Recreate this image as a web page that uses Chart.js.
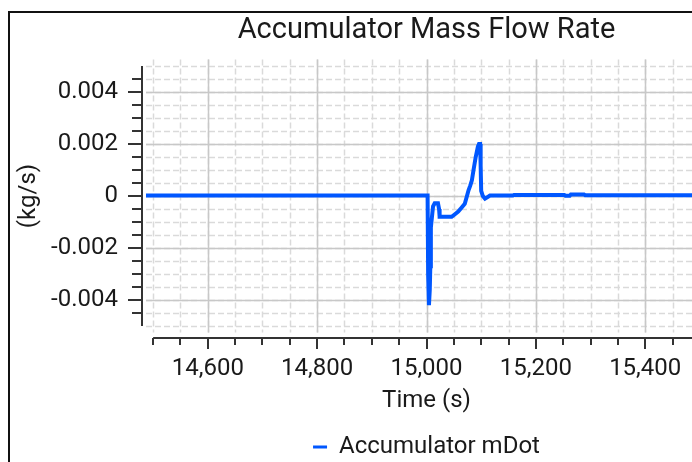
<!DOCTYPE html>
<html>
<head>
<meta charset="utf-8">
<title>Accumulator Mass Flow Rate</title>
<script src="https://cdn.jsdelivr.net/npm/chart.js@4.4.0/dist/chart.umd.min.js"></script>
<style>
  html, body { margin: 0; padding: 0; background: #fff; overflow: hidden; }
  #frame { position: absolute; left: 8px; top: 11px; width: 760px; height: 520px; border: 2px solid #111; }
  #chart { position: absolute; left: 0; top: 0; }
</style>
</head>
<body>
<div id="frame"></div>
<canvas id="chart" width="720" height="469"></canvas>
<script>
// time (s) and accumulator mass flow (kg/s)
const time = [14487, 15002, 15003, 15004.5, 15006, 15007, 15008, 15010, 15012, 15015,
  15021, 15023, 15024, 15046, 15052, 15058, 15064, 15070, 15074, 15077,
  15080, 15083, 15086, 15088, 15090, 15092, 15094, 15096, 15098, 15099,
  15100, 15103, 15107, 15111, 15116, 15158, 15160, 15252, 15254, 15262,
  15264, 15288, 15290, 15513];
const mdot = [0.00002, 0.00002, -0.0030, -0.0042, -0.0036, -0.0027, -0.0012, -0.0008, -0.0004, -0.00028,
  -0.00028, -0.0005, -0.0008, -0.0008, -0.0007, -0.0006, -0.00045, -0.0003, 0.0, 0.00023,
  0.0004, 0.0006, 0.0010, 0.00125, 0.0015, 0.0017, 0.0019, 0.0020, 0.0020, 0.0012,
  0.0002, 0.0, -0.0001, -0.00005, 0.00002, 0.00002, 0.00004, 0.00004, 0.00001, 0.00001,
  0.00006, 0.00006, 0.00003, 0.00003];

const xLabels = [14600, 14800, 15000, 15200, 15400];
const yLabels = [-0.004, -0.002, 0, 0.002, 0.004];
const xMinorStep = 50;      // 14500 .. 15500
const yMinorStep = 0.0005;  // -0.005 .. 0.005

const FONT = 'Roboto, "Liberation Sans", Arial, sans-serif';
const TEXT = '#1a1a1a';
const LINE = '#0057ff';

// dashed minor grid, solid major grid, offset axis lines with tick marks
const gridAndAxes = {
  id: 'gridAndAxes',
  beforeDatasetsDraw(chart) {
    const { ctx, chartArea: a, scales: { x, y } } = chart;
    ctx.save();
    ctx.lineWidth = 1.5;
    ctx.setLineDash([6, 3]);
    ctx.strokeStyle = '#dadada';
    for (let i = 0; i <= 20; i++) {
      const px = Math.round(x.getPixelForValue(14500 + i * xMinorStep)) + 0.5;
      ctx.beginPath(); ctx.moveTo(px, a.top); ctx.lineTo(px, a.bottom); ctx.stroke();
    }
    for (let i = -10; i <= 10; i++) {
      const py = Math.round(y.getPixelForValue(i * yMinorStep)) + 0.5;
      ctx.beginPath(); ctx.moveTo(a.left, py); ctx.lineTo(a.right, py); ctx.stroke();
    }
    ctx.setLineDash([]);
    ctx.strokeStyle = '#c8c8c8';
    xLabels.forEach(v => {
      const px = Math.round(x.getPixelForValue(v)) + 0.5;
      ctx.beginPath(); ctx.moveTo(px, a.top); ctx.lineTo(px, a.bottom); ctx.stroke();
    });
    yLabels.forEach(v => {
      const py = Math.round(y.getPixelForValue(v)) + 0.5;
      ctx.beginPath(); ctx.moveTo(a.left, py); ctx.lineTo(a.right, py); ctx.stroke();
    });
    ctx.restore();
  },
  afterDraw(chart) {
    const { ctx, chartArea: a, scales: { x, y } } = chart;
    ctx.save();
    ctx.strokeStyle = '#333';
    ctx.lineWidth = 2;
    // y axis
    const ax = a.left - 4;
    ctx.beginPath();
    ctx.moveTo(ax, y.getPixelForValue(0.005));
    ctx.lineTo(ax, y.getPixelForValue(-0.005));
    ctx.stroke();
    for (let i = -9; i <= 9; i++) {
      const v = i * yMinorStep;
      const major = i % 4 === 0;
      const py = Math.round(y.getPixelForValue(v));
      ctx.beginPath(); ctx.moveTo(ax - (major ? 14 : 10), py); ctx.lineTo(ax, py); ctx.stroke();
    }
    // x axis
    const ay = a.bottom + 5.5;
    ctx.beginPath();
    ctx.moveTo(x.getPixelForValue(14500), ay);
    ctx.lineTo(x.getPixelForValue(15500), ay);
    ctx.stroke();
    for (let i = 0; i <= 20; i++) {
      const v = 14500 + i * xMinorStep;
      const major = xLabels.includes(v);
      const px = Math.round(x.getPixelForValue(v));
      ctx.beginPath(); ctx.moveTo(px, ay); ctx.lineTo(px, ay + (major ? 11 : 7)); ctx.stroke();
    }
    ctx.restore();
  }
};

new Chart(document.getElementById('chart'), {
  type: 'line',
  data: {
    datasets: [{
      label: 'Accumulator mDot',
      data: time.map((t, i) => ({ x: t, y: mdot[i] })),
      borderColor: LINE,
      backgroundColor: LINE,
      borderWidth: 4,
      pointRadius: 0,
      tension: 0,
      fill: false
    }]
  },
  options: {
    responsive: false,
    animation: false,
    layout: { padding: { left: 0, right: 13, top: 0, bottom: 0 } },
    scales: {
      x: {
        type: 'linear',
        min: 14487,
        max: 15513,
        afterBuildTicks: s => { s.ticks = xLabels.map(v => ({ value: v })); },
        afterFit: s => { s.height = 92.5; },
        grid: { display: false, drawTicks: false },
        border: { display: false },
        ticks: {
          autoSkip: false,
          maxRotation: 0,
          padding: 22,
          color: TEXT,
          font: { family: FONT, size: 24 },
          callback: v => v.toLocaleString('en-US')
        },
        title: {
          display: true,
          text: 'Time (s)',
          color: TEXT,
          font: { family: FONT, size: 24 },
          padding: { top: 0, bottom: 10 }
        }
      },
      y: {
        min: -0.00525,
        max: 0.00525,
        afterBuildTicks: s => { s.ticks = yLabels.map(v => ({ value: v })); },
        afterFit: s => { s.width = 146; },
        grid: { display: false, drawTicks: false },
        border: { display: false },
        ticks: {
          autoSkip: false,
          padding: 28,
          color: TEXT,
          font: { family: FONT, size: 24 },
          callback: v => (v === 0 ? '0' : v.toFixed(3))
        },
        title: {
          display: true,
          text: '(kg/s)',
          color: TEXT,
          font: { family: FONT, size: 24 },
          padding: { top: 15, bottom: 0 }
        }
      }
    },
    plugins: {
      title: {
        display: true,
        fullSize: false,
        text: 'Accumulator Mass Flow Rate',
        color: TEXT,
        font: { family: FONT, size: 29, weight: 'normal' },
        padding: { top: 13.5, bottom: 11.2 }
      },
      legend: {
        position: 'bottom',
        fullSize: false,
        labels: {
          color: TEXT,
          font: { family: FONT, size: 24 },
          boxWidth: 14,
          boxHeight: 3,
          padding: 10,
          generateLabels: chart => Chart.defaults.plugins.legend.labels.generateLabels(chart)
            .map(l => ({ ...l, lineWidth: 0 }))
        }
      },
      tooltip: { enabled: false }
    }
  },
  plugins: [gridAndAxes]
});
</script>
</body>
</html>
